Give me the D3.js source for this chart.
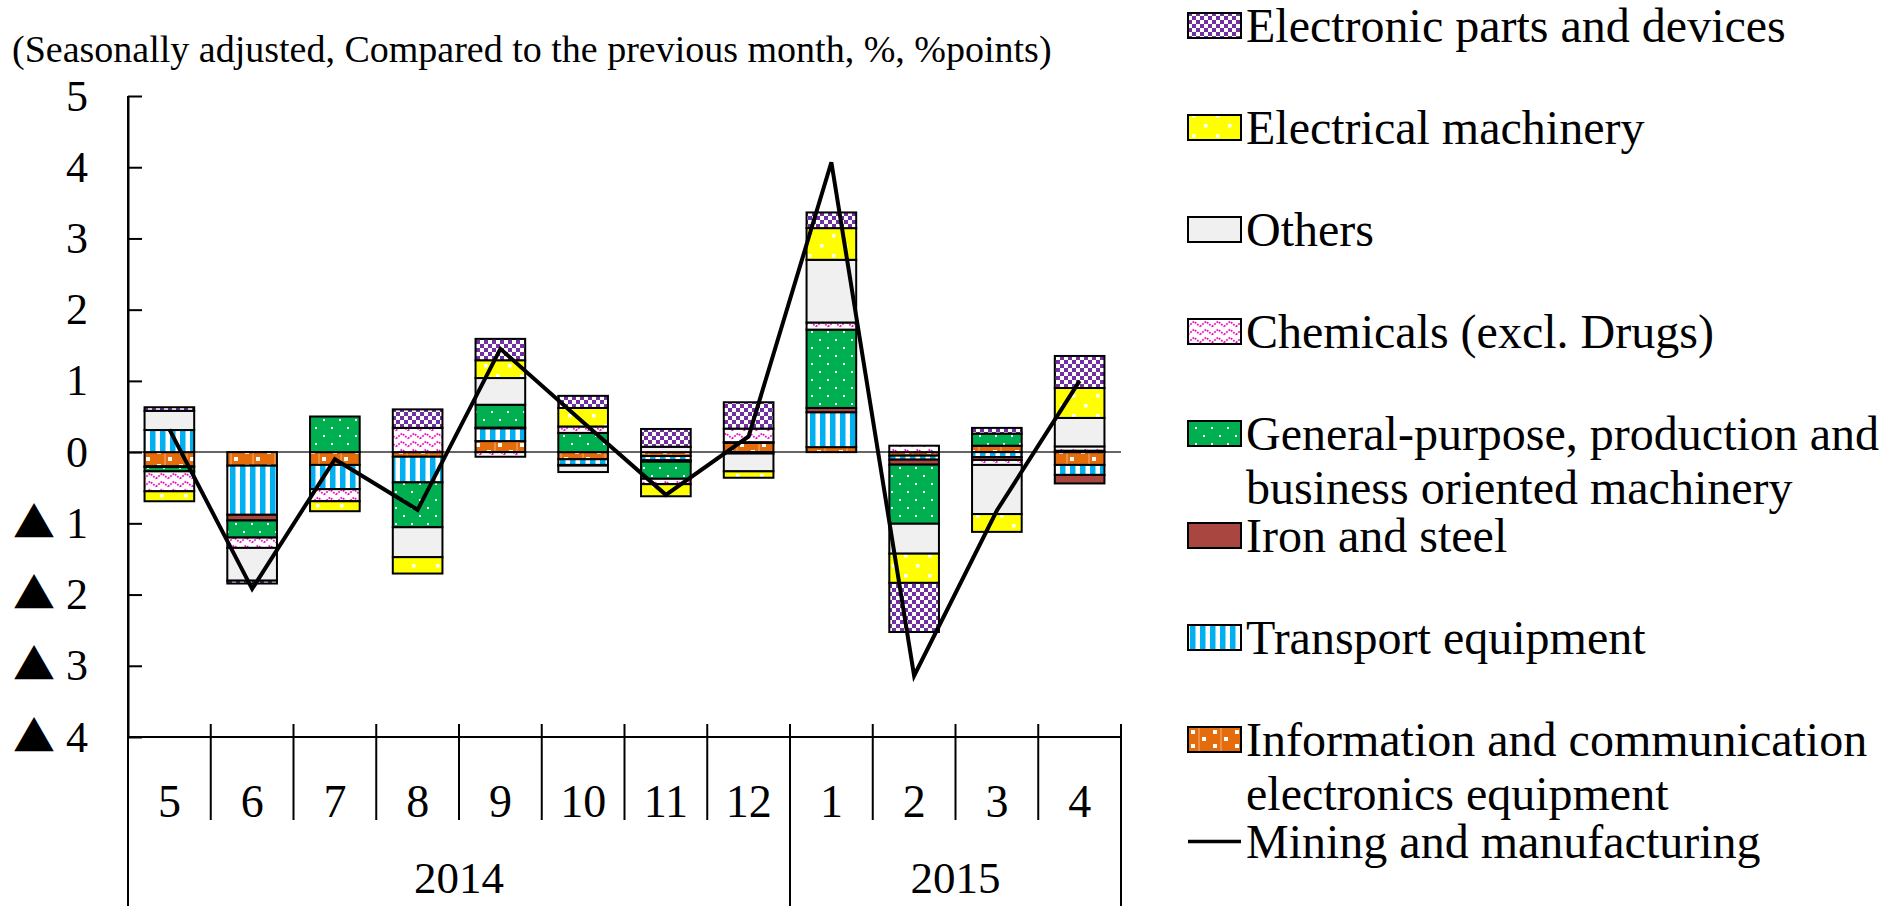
<!DOCTYPE html>
<html>
<head>
<meta charset="utf-8">
<script src="https://cdn.jsdelivr.net/npm/d3@7"></script>
<style>
  body { margin: 0; background: #fff; }
  svg text { font-family: "Liberation Serif", "Times New Roman", serif; fill: #000; }
</style>
</head>
<body>
<div id="chart"></div>
<script>
// months shown on the x axis (May 2014 .. Apr 2015)
let months = ["5", "6", "7", "8", "9", "10", "11", "12", "1", "2", "3", "4"];
let yearLabels = ["2014", "2015"];
let yearMonthCounts = [8, 4];
let yTicks = [5, 4, 3, 2, 1, 0, -1, -2, -3, -4];

// stacking order (bottom first), legend shows it reversed
let seriesNames = [
  "Information and communication electronics equipment",
  "Transport equipment",
  "Iron and steel",
  "General-purpose, production and business oriented machinery",
  "Chemicals (excl. Drugs)",
  "Others",
  "Electrical machinery",
  "Electronic parts and devices"
];

let infoComm    = [-0.20, -0.19, -0.18, -0.065, 0.155, -0.10, -0.055, 0.13, 0.07, -0.05, 0.09, -0.18];
let transport   = [0.31, -0.69, -0.34, -0.36, 0.18, -0.08, -0.06, 0.00, 0.49, -0.056, -0.07, -0.14];
let ironSteel   = [-0.01, -0.08, 0.00, 0.00, 0.01, -0.01, -0.02, -0.02, 0.06, -0.07, -0.04, -0.12];
let generalMach = [-0.06, -0.24, 0.50, -0.63, 0.32, 0.27, -0.24, 0.01, 1.10, -0.83, 0.17, 0.02];
let chemicals   = [-0.28, -0.145, -0.17, 0.34, -0.065, 0.09, -0.075, 0.19, 0.10, 0.09, -0.07, 0.06];
let others      = [0.27, -0.46, 0.00, -0.42, 0.375, -0.09, 0.075, -0.25, 0.88, -0.42, -0.69, 0.40];
let electrical  = [-0.14, 0.00, -0.14, -0.23, 0.25, 0.26, -0.17, -0.09, 0.445, -0.41, -0.25, 0.42];
let electronic  = [0.05, -0.04, 0.00, 0.26, 0.30, 0.17, 0.25, 0.37, 0.22, -0.69, 0.08, 0.45];
let mining      = [0.32, -1.92, -0.10, -0.81, 1.45, 0.42, -0.60, 0.22, 4.07, -3.14, -0.82, 1.00];

let seriesValues = [infoComm, transport, ironSteel, generalMach, chemicals, others, electrical, electronic];

// legend text split into lines
let legendLines = [
  ["Information and communication", "electronics equipment"],
  ["Transport equipment"],
  ["Iron and steel"],
  ["General-purpose, production and", "business oriented machinery"],
  ["Chemicals (excl. Drugs)"],
  ["Others"],
  ["Electrical machinery"],
  ["Electronic parts and devices"]
];
let lineName = "Mining and manufacturing";
let subtitle = "(Seasonally adjusted, Compared to the previous month, %, %points)";

let width = 1885, height = 906;
let margin = {left: 128, right: 764, top: 96, bottom: 169};

let svg = d3.select("#chart")
    .append("svg")
    .attr("width", width)
    .attr("height", height);

// ---------- fill patterns ----------
let defs = svg.append("defs");
function makePattern(id, w, h, bg) {
  let p = defs.append("pattern")
      .attr("id", id)
      .attr("patternUnits", "userSpaceOnUse")
      .attr("width", w)
      .attr("height", h);
  p.append("rect").attr("width", w).attr("height", h).attr("fill", bg);
  return p;
}
function sq(p, x, y, s, c) {
  p.append("rect").attr("x", x).attr("y", y).attr("width", s).attr("height", s).attr("fill", c);
}

let pInfo = makePattern("p-info", 22, 14, "#E46C0A");
pInfo.append("line").attr("x1", 11).attr("x2", 11).attr("y1", 0).attr("y2", 14)
    .attr("stroke", "#F3B380").attr("stroke-width", 1);
sq(pInfo, 3, 2, 4, "#fff");
sq(pInfo, 14, 9, 4, "#fff");

let pTrans = makePattern("p-trans", 10, 10, "#fff");
pTrans.append("rect").attr("x", 0).attr("width", 5.5).attr("height", 10).attr("fill", "#00B0F0");

makePattern("p-iron", 10, 10, "#A9463F");

let pGen = makePattern("p-gen", 16, 16, "#00B050");
sq(pGen, 3, 3, 2, "#fff");
sq(pGen, 11, 11, 2, "#fff");

let pChem = makePattern("p-chem", 12, 8, "#fff");
pChem.append("path").attr("d", "M0,6.5 L6,1.5 L12,6.5")
    .attr("fill", "none").attr("stroke", "#F010C0")
    .attr("stroke-width", 1.8).attr("stroke-dasharray", "1.8 1.2");

makePattern("p-oth", 10, 10, "#F0F0F0");

let pElec = makePattern("p-elec", 24, 20, "#FFFF00");
sq(pElec, 4, 4, 3.5, "#fff");
sq(pElec, 16, 14, 3.5, "#fff");

let pEtr = makePattern("p-etr", 8, 8, "#fff");
sq(pEtr, 0, 0, 4, "#7030A0");
sq(pEtr, 4, 4, 4, "#7030A0");

let fills = ["url(#p-info)", "url(#p-trans)", "url(#p-iron)", "url(#p-gen)",
             "url(#p-chem)", "url(#p-oth)", "url(#p-elec)", "url(#p-etr)"];

// ---------- scales ----------
let x = d3.scaleBand()
    .domain(months.map((m, i) => i))
    .range([margin.left, width - margin.right])
    .paddingInner(0.4)
    .paddingOuter(0.2);

let y = d3.scaleLinear()
    .domain([-4, 5])
    .range([height - margin.bottom, margin.top]);

// zero line
svg.append("line")
    .attr("x1", margin.left).attr("x2", width - margin.right)
    .attr("y1", y(0)).attr("y2", y(0))
    .attr("stroke", "#333").attr("stroke-width", 1.5);

// ---------- stacked bars ----------
let rows = months.map((m, i) => {
  let r = {idx: i};
  seriesNames.forEach((s, j) => r[s] = seriesValues[j][i]);
  return r;
});

let stacked = d3.stack()
    .keys(seriesNames)
    .offset(d3.stackOffsetDiverging)(rows);

let barG = svg.append("g");
stacked.forEach((layer, j) => {
  barG.selectAll(null)
      .data(layer.filter(d => d[1] !== d[0]))
      .enter()
      .append("rect")
      .attr("x", d => x(d.data.idx))
      .attr("y", d => y(Math.max(d[0], d[1])))
      .attr("width", x.bandwidth())
      .attr("height", d => Math.abs(y(d[0]) - y(d[1])))
      .attr("fill", fills[j])
      .attr("stroke", "#000")
      .attr("stroke-width", 2);
});

// ---------- line ----------
let line = d3.line()
    .x((d, i) => x(i) + x.bandwidth() / 2)
    .y(d => y(d));

svg.append("path")
    .datum(mining)
    .attr("d", line)
    .attr("fill", "none")
    .attr("stroke", "#000")
    .attr("stroke-width", 4)
    .attr("stroke-linejoin", "miter");

// ---------- y axis ----------
let yAxis = svg.append("g")
    .attr("transform", `translate(${margin.left},0)`)
    .call(d3.axisLeft(y)
        .tickValues(yTicks)
        .tickSizeInner(-14)
        .tickSizeOuter(0)
        .tickPadding(40)
        .tickFormat(""));
yAxis.select(".domain").attr("stroke", "#000").attr("stroke-width", 2);
yAxis.selectAll(".tick line").attr("stroke", "#000").attr("stroke-width", 2);
yAxis.selectAll(".tick text").each(function(d) {
  let t = d3.select(this)
      .style("font-family", "'Liberation Serif', serif")
      .style("font-size", "44px");
  if (d < 0) {
    t.append("tspan")
        .style("font-family", "'Noto Sans CJK JP', 'DejaVu Sans', sans-serif")
        .style("font-size", "42px")
        .text("▲");
    t.append("tspan").text(" " + (-d));
  } else {
    t.text(d);
  }
});

// ---------- x axis (category table) ----------
let x0 = x.range()[0];
let step = x.step();
let axisY = y(-4);
svg.append("line")
    .attr("x1", x0).attr("x2", x.range()[1])
    .attr("y1", axisY).attr("y2", axisY)
    .attr("stroke", "#000").attr("stroke-width", 2);

let yearBreaks = [0];
yearMonthCounts.forEach(c => yearBreaks.push(yearBreaks[yearBreaks.length - 1] + c));

d3.range(months.length + 1).forEach(k => {
  let long = yearBreaks.includes(k);
  svg.append("line")
      .attr("x1", x0 + k * step).attr("x2", x0 + k * step)
      .attr("y1", k === 0 ? y(5) : axisY - 13)
      .attr("y2", long ? height : axisY + 83)
      .attr("stroke", "#000").attr("stroke-width", 2);
});

svg.append("g").selectAll("text")
    .data(months)
    .enter()
    .append("text")
    .attr("x", (d, i) => x(i) + x.bandwidth() / 2)
    .attr("y", axisY + 80)
    .style("text-anchor", "middle")
    .style("font-size", "46px")
    .text(d => d);

svg.append("g").selectAll("text")
    .data(yearLabels)
    .enter()
    .append("text")
    .attr("x", (d, i) => x0 + (yearBreaks[i] + yearBreaks[i + 1]) / 2 * step)
    .attr("y", height - 13)
    .style("text-anchor", "middle")
    .style("font-size", "45px")
    .text(d => d);

// ---------- subtitle ----------
svg.append("text")
    .attr("x", 12)
    .attr("y", 62)
    .style("font-size", "38px")
    .text(subtitle);

// ---------- legend ----------
let legendX = 1188, legendTop = 13, legendGap = 102;
let order = d3.range(seriesNames.length).reverse();
let legend = svg.append("g");
order.forEach((j, k) => {
  let top = legendTop + k * legendGap;
  legend.append("rect")
      .attr("x", legendX).attr("y", top)
      .attr("width", 53).attr("height", 25)
      .attr("fill", fills[j])
      .attr("stroke", "#000").attr("stroke-width", 2);
  let t = legend.append("text")
      .attr("x", legendX + 58)
      .attr("y", top + 12.5 + 16)
      .style("font-size", "48px");
  legendLines[j].forEach((ln, li) => {
    t.append("tspan")
        .attr("x", legendX + 58)
        .attr("dy", li === 0 ? 0 : 54)
        .text(ln);
  });
});
let lineY = legendTop + order.length * legendGap + 12.5;
legend.append("line")
    .attr("x1", legendX).attr("x2", legendX + 53)
    .attr("y1", lineY).attr("y2", lineY)
    .attr("stroke", "#000").attr("stroke-width", 3.5);
legend.append("text")
    .attr("x", legendX + 58)
    .attr("y", lineY + 16)
    .style("font-size", "48px")
    .text(lineName);
</script>
</body>
</html>
